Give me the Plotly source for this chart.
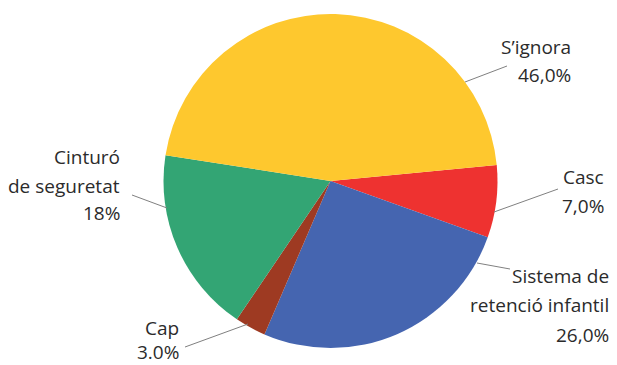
import plotly.graph_objects as go

W, H = 617, 365
OFF = 8  # marge per defecte del <body> de la pàgina

# Dades (ordre horari a partir de la franja de "Casc")
labels = ["Casc", "Sistema de retenció infantil", "Cap", "Cinturó de seguretat", "S'ignora"]
values = [7.0, 26.0, 3.0, 18.0, 46.0]
colors = ["#EE3230", "#4565B0", "#9E3A22", "#33A574", "#FEC82E"]

# Textos de les etiquetes, línia per línia
label_lines = {
    "S'ignora": ["S’ignora", "46,0%"],
    "Casc": ["Casc", "7,0%"],
    "Sistema de retenció infantil": ["Sistema de", "retenció infantil", "26,0%"],
    "Cap": ["Cap", "3.0%"],
    "Cinturó de seguretat": ["Cinturó", "de seguretat", "18%"],
}

# Posició de les etiquetes (vora dreta, centre de cada línia) en píxels de la finestra
label_pos = {
    "S'ignora": (573, [47, 75]),
    "Casc": (606, [177, 206]),
    "Sistema de retenció infantil": (611, [276, 305, 335]),
    "Cap": (181, [328, 352]),
    "Cinturó de seguretat": (122, [157, 186, 213]),
}

# Línies guia (píxels de la finestra)
leaders = {
    "S'ignora": (465, 82, 507, 66),
    "Casc": (494, 212, 558, 189),
    "Sistema de retenció infantil": (477, 263, 510, 269),
    "Cap": (185, 347, 248, 324),
    "Cinturó de seguretat": (132, 195, 167, 208),
}

cx, cy, r = 330.5, 181, 167


def px(x):
    return (x - OFF) / W


def py(y):
    return 1 - (y - OFF) / H


fig = go.Figure(go.Pie(
    labels=labels,
    values=values,
    marker=dict(colors=colors, line=dict(width=0)),
    sort=False,
    direction="clockwise",
    rotation=84.5,
    textinfo="none",
    hoverinfo="skip",
    domain=dict(x=[px(cx - r), px(cx + r)], y=[py(cy + r), py(cy - r)]),
))

for name, (x, ys) in label_pos.items():
    for txt, y in zip(label_lines[name], ys):
        fig.add_annotation(
            x=px(x), y=py(y), xref="paper", yref="paper",
            text=txt, showarrow=False,
            xanchor="right", yanchor="middle",
            font=dict(family="Open Sans", size=19, color="#2B2B2B"),
        )

for name, (x0, y0, x1, y1) in leaders.items():
    fig.add_shape(
        type="line", xref="paper", yref="paper",
        x0=px(x0), y0=py(y0), x1=px(x1), y1=py(y1),
        line=dict(color="#808080", width=1),
    )

fig.update_layout(
    width=W, height=H,
    margin=dict(l=0, r=0, t=0, b=0),
    paper_bgcolor="white",
    plot_bgcolor="white",
    showlegend=False,
)

fig.write_html("out.html")
